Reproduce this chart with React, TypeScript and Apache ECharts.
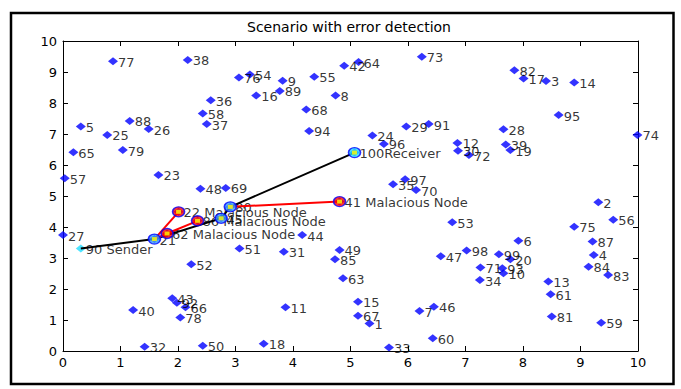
import React, { useEffect, useRef } from "react";
import * as echarts from "echarts";

// ---------- data ----------
const titleText = "Scenario with error detection";
const xTickMin = 0;
const xTickMax = 10;
const yTickMin = 0;
const yTickMax = 10;
const tickStep = 1;

const nodeIds = Array.from({ length: 100 }, (_, i) => i + 1);
const nodeX = [
  5.33, 9.31, 8.40, 9.23, 0.31, 7.92, 6.20, 4.74, 3.82, 7.66,
  3.87, 6.86, 8.44, 8.89, 5.13, 3.36, 8.01, 3.49, 7.78, 7.78,
  1.59, 2.01, 1.66, 5.38, 0.77, 1.49, 0.00, 7.66, 5.97, 6.87,
  3.84, 1.42, 5.67, 7.25, 5.74, 2.57, 2.50, 2.17, 7.70, 1.22,
  4.81, 4.89, 1.90, 4.16, 2.75, 6.45, 6.57, 2.39, 4.81, 2.43,
  3.07, 2.23, 6.77, 3.25, 4.37, 9.57, 0.03, 2.43, 9.36, 6.43,
  8.48, 1.81, 4.87, 5.14, 0.18, 2.13, 5.13, 4.23, 2.83, 6.14,
  7.26, 7.06, 6.24, 9.99, 8.89, 3.06, 0.87, 2.04, 1.04, 2.91,
  8.50, 7.85, 9.48, 9.14, 4.73, 2.34, 9.21, 1.16, 3.77, 0.31,
  6.36, 1.98, 7.64, 4.28, 8.62, 5.58, 5.95, 7.02, 7.58, 5.07,
];
const nodeY = [
  0.89, 4.80, 8.71, 3.10, 7.24, 3.56, 1.29, 8.24, 8.72, 2.51,
  1.41, 6.71, 2.24, 8.66, 1.59, 8.24, 8.79, 0.23, 6.48, 2.96,
  3.61, 4.49, 5.68, 6.95, 6.97, 7.16, 3.74, 7.15, 7.24, 6.46,
  3.20, 0.14, 0.11, 2.29, 5.38, 8.09, 7.32, 9.39, 6.66, 1.32,
  4.82, 9.20, 1.70, 3.74, 4.28, 1.43, 3.06, 5.23, 3.26, 0.17,
  3.31, 2.80, 4.15, 8.92, 8.85, 4.23, 5.57, 7.66, 0.91, 0.41,
  1.83, 3.79, 2.35, 9.32, 6.41, 1.41, 1.14, 7.79, 5.26, 5.19,
  2.69, 6.32, 9.49, 6.97, 4.01, 8.82, 9.35, 1.08, 6.48, 4.65,
  1.11, 9.06, 2.45, 2.72, 2.96, 4.20, 3.53, 7.42, 8.39, 3.31,
  7.32, 1.56, 2.67, 7.10, 7.61, 6.68, 5.54, 3.24, 3.12, 6.40,
];
const senderId = 90;
const receiverId = 100;
const maliciousIds = [22, 62, 86, 41];
const relayIds = [21, 45, 80];
const routeIds = [90, 21, 45, 80, 100];
const redLinks = [
  [21, 22],
  [21, 62],
  [62, 86],
  [80, 41],
];
const senderText = "Sender";
const receiverText = "Receiver";
const maliciousText = "Malacious Node";

// ---------- chart ----------
const FONT = "DejaVu Sans";
const ELLIPSE = "path://M0,5A5,5,0,1,1,10,5A5,5,0,1,1,0,5Z";

function labelOf(id: number): string {
  if (id === senderId) return `${id} ${senderText}`;
  if (id === receiverId) return `${id}${receiverText}`;
  if (maliciousIds.includes(id)) return `${id} ${maliciousText}`;
  return String(id);
}

function pt(id: number) {
  return [nodeX[id - 1], nodeY[id - 1]];
}

export default function App() {
  const ref = useRef<HTMLDivElement>(null);

  useEffect(() => {
    if (!ref.current) return;
    const chart = echarts.init(ref.current, null, { renderer: "svg" });

    const axisCommon = (showLabel: boolean) => ({
      type: "value" as const,
      interval: tickStep,
      axisLine: { show: true, onZero: false, lineStyle: { color: "#000", width: 1 } },
      axisTick: { show: true, inside: true, length: 5, lineStyle: { color: "#000", width: 1 } },
      axisLabel: {
        show: showLabel,
        color: "#000",
        fontFamily: FONT,
        fontSize: 13,
        showMinLabel: true,
        showMaxLabel: true,
      },
      splitLine: { show: false },
    });

    const labelStyle = {
      show: true,
      position: "right" as const,
      distance: 0,
      offset: [0, 1],
      color: "#000",
      fontFamily: FONT,
      fontSize: 13,
      formatter: (p: any) => p.name,
    };

    const series: any[] = [];

    // plain nodes (blue diamonds)
    series.push({
      type: "scatter",
      name: "nodes",
      symbol: "diamond",
      symbolSize: [10, 8],
      itemStyle: { color: "#0000FF" },
      label: labelStyle,
      z: 2,
      data: nodeIds
        .filter((id) => id !== senderId)
        .map((id) => ({ name: labelOf(id), value: pt(id) })),
    });

    // sender
    series.push({
      type: "scatter",
      name: "sender",
      symbol: "diamond",
      symbolSize: [10, 8],
      itemStyle: { color: "#22DDFF" },
      label: labelStyle,
      z: 2,
      data: [{ name: labelOf(senderId), value: pt(senderId) }],
    });

    // route (black)
    series.push({
      type: "line",
      name: "route",
      symbol: "none",
      silent: true,
      lineStyle: { color: "#000", width: 2 },
      z: 3,
      data: routeIds.map(pt),
    });

    // red links
    redLinks.forEach((lk, i) => {
      series.push({
        type: "line",
        name: "red" + i,
        symbol: "none",
        silent: true,
        lineStyle: { color: "#FF0000", width: 2 },
        z: 3,
        data: lk.map(pt),
      });
    });

    // malicious circles
    series.push({
      type: "scatter",
      name: "malicious",
      symbol: ELLIPSE,
      symbolSize: [12, 10],
      itemStyle: { color: "#FF0000", borderColor: "#0000FF", borderWidth: 1.5 },
      z: 4,
      data: maliciousIds.map(pt),
    });

    // relay circles
    series.push({
      type: "scatter",
      name: "relay",
      symbol: ELLIPSE,
      symbolSize: [12, 10],
      itemStyle: { color: "#3399FF", borderColor: "#0000FF", borderWidth: 1.5 },
      z: 4,
      data: relayIds.map(pt),
    });

    // receiver circle
    series.push({
      type: "scatter",
      name: "receiver",
      symbol: ELLIPSE,
      symbolSize: [12, 10],
      itemStyle: { color: "#22DDFF", borderColor: "#0000FF", borderWidth: 1.5 },
      z: 4,
      data: [pt(receiverId)],
    });

    // yellow centers
    series.push({
      type: "scatter",
      name: "centers",
      symbol: "rect",
      symbolSize: [5, 4],
      itemStyle: { color: "#FFFF00" },
      z: 5,
      data: [...maliciousIds, ...relayIds, receiverId].map(pt),
    });

    chart.setOption({
      animation: false,
      backgroundColor: "#fff",
      grid: { left: 63, right: 43, top: 41, bottom: 38, containLabel: false },
      xAxis: [
        { ...axisCommon(true), position: "bottom", min: xTickMin, max: xTickMax, axisLabel: { ...axisCommon(true).axisLabel, margin: 5 } },
        { ...axisCommon(false), position: "top", min: xTickMin, max: xTickMax },
      ],
      yAxis: [
        { ...axisCommon(true), position: "left", min: yTickMin, max: yTickMax, axisLabel: { ...axisCommon(true).axisLabel, margin: 6 } },
        { ...axisCommon(false), position: "right", min: yTickMin, max: yTickMax },
      ],
      graphic: [
        {
          type: "rect",
          shape: { x: 11, y: 13, width: 662.5, height: 371 },
          style: { fill: "none", stroke: "#000", lineWidth: 2.5 },
          silent: true,
          z: 0,
        },
        {
          type: "text",
          x: 349,
          y: 27,
          style: {
            text: titleText,
            fill: "#000",
            font: `14px "${FONT}"`,
            align: "center",
            verticalAlign: "middle",
            textAlign: "center",
            textVerticalAlign: "middle",
          },
          silent: true,
        },
      ],
      series,
    });

    return () => chart.dispose();
  }, []);

  return (
    <div
      ref={ref}
      style={{ position: "fixed", left: 0, top: 0, width: 681, height: 389 }}
    />
  );
}
